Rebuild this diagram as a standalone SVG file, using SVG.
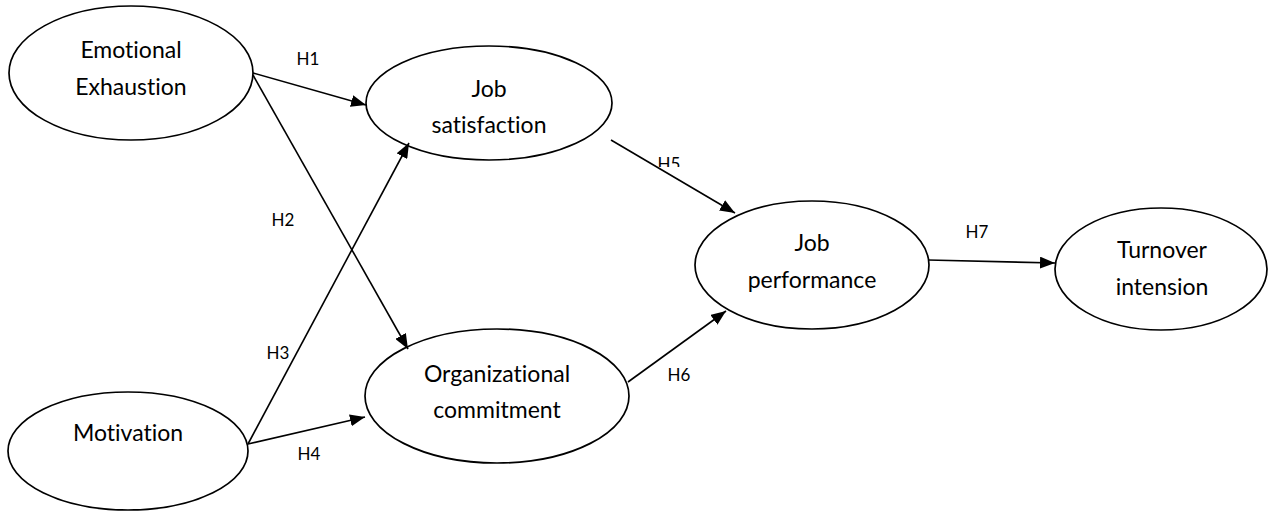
<svg xmlns="http://www.w3.org/2000/svg" width="1274" height="512" viewBox="0 0 1274 512">
  <style>
    text { font-variant-ligatures: none; font-feature-settings: "liga" 0, "clig" 0; }
    .node ellipse { fill: #ffffff; stroke: #000000; stroke-width: 1.7; }
    .node text { font-family: Lato, "Open Sans", "Liberation Sans", sans-serif; font-size: 23px; fill: #000000; text-anchor: middle; }
    .edge { fill: none; stroke: #000000; stroke-width: 1.6; marker-end: url(#arrow); }
    .label { font-family: Lato, "Open Sans", "Liberation Sans", sans-serif; font-size: 17px; fill: #000000; text-anchor: middle; }
  </style>
  <defs>
    <marker id="arrow" markerUnits="userSpaceOnUse" viewBox="0 0 15 12" refX="15" refY="6" markerWidth="15" markerHeight="12" orient="auto">
      <path d="M0,0 L15,6 L0,12 Z" fill="#000000"/>
    </marker>
    <clipPath id="h5-clip">
      <rect x="640" y="145" width="60" height="22"/>
    </clipPath>
  </defs>

  <rect width="1274" height="512" fill="#ffffff"/>

  <!-- nodes -->
  <g id="emotional-exhaustion" class="node">
    <ellipse cx="131" cy="73" rx="122" ry="67"/>
    <text x="131" y="58">Emotional</text>
    <text x="131" y="95">Exhaustion</text>
  </g>
  <g id="job-satisfaction" class="node">
    <ellipse cx="489" cy="103" rx="123" ry="57"/>
    <text x="489" y="97">Job</text>
    <text x="489" y="133">satisfaction</text>
  </g>
  <g id="organizational-commitment" class="node">
    <ellipse cx="497" cy="396" rx="132" ry="67"/>
    <text x="497" y="382">Organizational</text>
    <text x="497" y="418">commitment</text>
  </g>
  <g id="motivation" class="node">
    <ellipse cx="128" cy="451" rx="120" ry="59"/>
    <text x="128" y="441">Motivation</text>
  </g>
  <g id="job-performance" class="node">
    <ellipse cx="812" cy="265" rx="117" ry="64"/>
    <text x="812" y="251">Job</text>
    <text x="812" y="288">performance</text>
  </g>
  <g id="turnover-intension" class="node">
    <ellipse cx="1161" cy="269" rx="106" ry="61"/>
    <text x="1162" y="258">Turnover</text>
    <text x="1162" y="295">intension</text>
  </g>

  <!-- connectors -->
  <g id="connectors">
    <path id="h1" class="edge" d="M253,73 L366,105"/>
    <path id="h2" class="edge" d="M253,75 L408,349"/>
    <path id="h3" class="edge" d="M248,444 L409,143"/>
    <path id="h4" class="edge" d="M248,444 L365,417"/>
    <path id="h5" class="edge" d="M611,140 L735,213"/>
    <path id="h6" class="edge" d="M628,382 L726,311"/>
    <path id="h7" class="edge" d="M928,260 L1055,263"/>
  </g>

  <!-- hypothesis labels -->
  <g id="labels">
    <text class="label" x="308" y="65">H1</text>
    <text class="label" x="283" y="226">H2</text>
    <text class="label" x="278" y="359">H3</text>
    <text class="label" x="309" y="460">H4</text>
    <text class="label" x="669" y="170" clip-path="url(#h5-clip)">H5</text>
    <text class="label" x="679" y="381">H6</text>
    <text class="label" x="977" y="238">H7</text>
  </g>
</svg>
